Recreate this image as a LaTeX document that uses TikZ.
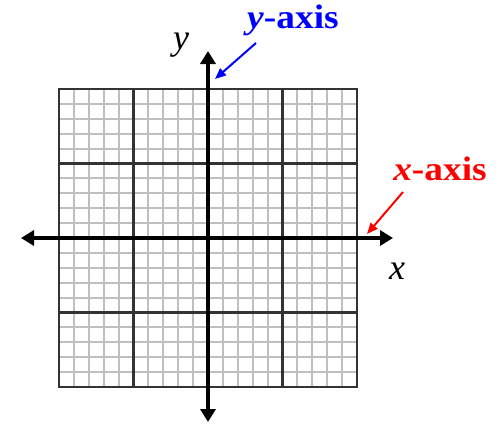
\documentclass[tikz,border=0pt]{standalone}
\usepackage{fontspec}
\setmainfont{Liberation Serif}
\usetikzlibrary{arrows.meta}
\begin{document}
\begin{tikzpicture}[x=1pt,y=-1pt,
  minorline/.style={draw=black!25,line width=2pt},
  majorline/.style={draw=black!80,line width=2.6pt},
  axisline/.style={line width=4.5pt,{Triangle[width=15pt,length=13pt]}-{Triangle[width=15pt,length=13pt]}},
  pointer/.style={line width=2pt,-{Triangle[width=9pt,length=11pt]}},
  varlabel/.style={font=\fontsize{36}{36}\selectfont\itshape,inner sep=0pt,anchor=base},
  axislabel/.style={font=\fontsize{34}{34}\selectfont\bfseries,inner sep=0pt,anchor=base}]
\useasboundingbox (0,0) rectangle (500,423);
% minor grid
\foreach \i in {1,...,19}{
  \draw[minorline] ({59+\i*14.9},89) -- ({59+\i*14.9},387);
  \draw[minorline] (59,{89+\i*14.9}) -- (357,{89+\i*14.9});
}
% major grid
\foreach \i in {0,...,4}{
  \draw[majorline] ({59+\i*74.5},88) -- ({59+\i*74.5},388);
  \draw[majorline] (58,{89+\i*74.5}) -- (358,{89+\i*74.5});
}
% axes
\coordinate (ytop) at (208,51);
\coordinate (ybot) at (208,422);
\coordinate (xleft) at (21,238);
\coordinate (xright) at (393,238);
\draw[axisline] (ybot) -- (ytop);
\draw[axisline] (xleft) -- (xright);
% labels
\node[varlabel] (ylab) at (181,49) {y};
\node[varlabel] (xlab) at (397,279) {x};
\node[axislabel,text=blue] (yaxis) at (293,28) {\scalebox{1.1}[1]{\textit{y}-axis}};
\node[axislabel,text=red] (xaxis) at (440,180) {\scalebox{1.1}[1]{\textit{x}-axis}};
\coordinate (ytip) at (215,79);
\coordinate (xtip) at (367,234);
\draw[pointer,blue] (256,43) -- (ytip);
\draw[pointer,red] (403,192) -- (xtip);
\end{tikzpicture}
\end{document}
